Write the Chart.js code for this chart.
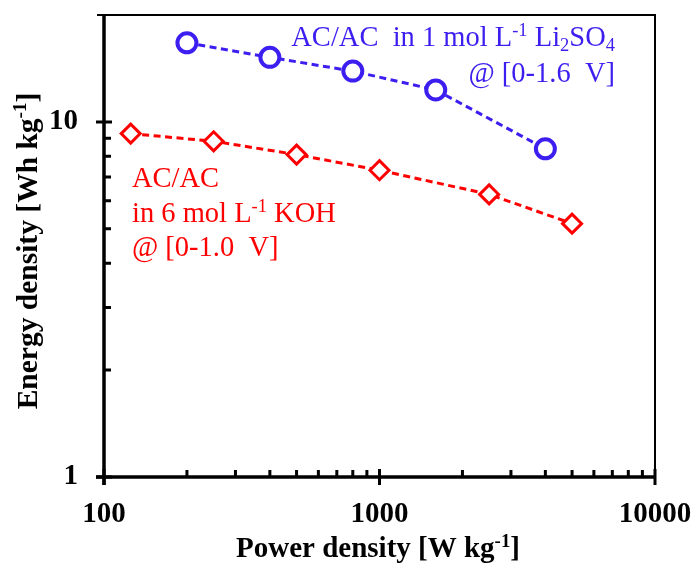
<!DOCTYPE html>
<html>
<head>
<meta charset="utf-8">
<script src="https://cdn.jsdelivr.net/npm/chart.js@4/dist/chart.umd.min.js"></script>
<style>
    html, body { margin: 0; padding: 0; background: #fff; }
    #wrap { width: 691px; height: 565px; }
</style>
</head>
<body>
<div id="wrap"><canvas id="chart" width="691" height="565"></canvas></div>
<script>
// Data (power density W/kg, energy density Wh/kg)
const li2so4Power = [200, 400, 800, 1600, 4000];
const li2so4Energy = [16.7, 15.2, 13.9, 12.3, 8.4];
const kohPower = [125, 250, 500, 1000, 2500, 5000];
const kohEnergy = [9.27, 8.82, 8.09, 7.31, 6.25, 5.17];

const xMajor = [100, 1000, 10000];
const yMajor = [1, 10];
const xRange = [100, 10000];
const yRange = [1, 20];

const BLUE = '#3c1ef0';
const RED = '#ff0000';
const SERIF = "'Liberation Serif', 'Times New Roman', serif";

// Minor ticks 2..9 of each decade inside the range
function minorTicks(min, max) {
    const out = [];
    for (let d = min; d < max; d *= 10) {
        for (let k = 2; k <= 9; k++) {
            const v = d * k;
            if (v < max) out.push(v);
        }
    }
    return out;
}

function toPoints(xs, ys) {
    return xs.map((x, i) => ({ x: x, y: ys[i] }));
}

// Text with super/subscripts, segments: [text, 'n' | 'sup' | 'sub']
function richWidth(ctx, segs, size, weight) {
    let w = 0;
    segs.forEach(([t, kind]) => {
        const s = kind === 'n' ? size : size * 0.65;
        ctx.font = `${weight} ${s}px ${SERIF}`;
        w += ctx.measureText(t).width;
    });
    return w;
}

function drawRich(ctx, segs, x, y, size, weight, color, align) {
    let cx = x;
    if (align === 'right') cx = x - richWidth(ctx, segs, size, weight);
    if (align === 'center') cx = x - richWidth(ctx, segs, size, weight) / 2;
    ctx.fillStyle = color;
    ctx.textBaseline = 'alphabetic';
    ctx.textAlign = 'left';
    segs.forEach(([t, kind]) => {
        let s = size, dy = 0;
        if (kind === 'sup') { s = size * 0.65; dy = -size * 0.36; }
        if (kind === 'sub') { s = size * 0.65; dy = size * 0.18; }
        ctx.font = `${weight} ${s}px ${SERIF}`;
        ctx.fillText(t, cx, y + dy);
        cx += ctx.measureText(t).width;
    });
}

// Axes, frame, ticks, titles and the text labels inside the plot
const decorPlugin = {
    id: 'decor',
    afterDraw(chart) {
        const ctx = chart.ctx;
        const a = chart.chartArea;
        const xs = chart.scales.x;
        const ys = chart.scales.y;
        ctx.save();
        ctx.strokeStyle = '#000';
        ctx.lineCap = 'butt';

        // frame (top + right)
        ctx.lineWidth = 2;
        ctx.beginPath();
        ctx.moveTo(a.left - 7, a.top);
        ctx.lineTo(a.right, a.top);
        ctx.lineTo(a.right, a.bottom);
        ctx.stroke();

        // axis lines
        ctx.lineWidth = 3.5;
        ctx.beginPath();
        ctx.moveTo(a.left, a.top - 1);
        ctx.lineTo(a.left, a.bottom + 8);
        ctx.moveTo(a.left - 8, a.bottom);
        ctx.lineTo(a.right + 1, a.bottom);
        ctx.stroke();

        // major ticks cross the axis, minor ticks point inward
        ctx.lineWidth = 3;
        ctx.beginPath();
        xMajor.forEach(v => {
            const px = xs.getPixelForValue(v);
            ctx.moveTo(px, a.bottom - 8);
            ctx.lineTo(px, a.bottom + 8);
        });
        minorTicks(xRange[0], xRange[1]).forEach(v => {
            const px = xs.getPixelForValue(v);
            ctx.moveTo(px, a.bottom);
            ctx.lineTo(px, a.bottom - 7);
        });
        yMajor.forEach(v => {
            const py = ys.getPixelForValue(v);
            ctx.moveTo(a.left - 8, py);
            ctx.lineTo(a.left + 8, py);
        });
        minorTicks(yRange[0], yRange[1]).forEach(v => {
            const py = ys.getPixelForValue(v);
            ctx.moveTo(a.left, py);
            ctx.lineTo(a.left + 7, py);
        });
        ctx.stroke();

        // axis titles
        drawRich(ctx, [['Power density [W kg', 'n'], ['-1', 'sup'], [']', 'n']],
            378, 557, 29, 'bold', '#000', 'center');
        ctx.save();
        ctx.translate(37, 251);
        ctx.rotate(-Math.PI / 2);
        drawRich(ctx, [['Energy density [Wh kg', 'n'], ['-1', 'sup'], [']', 'n']],
            0, 0, 29.5, 'bold', '#000', 'center');
        ctx.restore();

        // series labels
        drawRich(ctx, [['AC/AC  in 1 mol L', 'n'], ['-1', 'sup'], [' Li', 'n'], ['2', 'sub'], ['SO', 'n'], ['4', 'sub']],
            615, 46, 28.5, 'normal', BLUE, 'right');
        drawRich(ctx, [['@ [0-1.6  V]', 'n']], 615, 82, 28.5, 'normal', BLUE, 'right');
        drawRich(ctx, [['AC/AC', 'n']], 132, 187, 28.5, 'normal', RED, 'left');
        drawRich(ctx, [['in 6 mol L', 'n'], ['-1', 'sup'], [' KOH', 'n']], 132, 222, 28.5, 'normal', RED, 'left');
        drawRich(ctx, [['@ [0-1.0  V]', 'n']], 132, 256, 28.5, 'normal', RED, 'left');
        ctx.restore();
    }
};

// fixed plot area: drop the extra room the scales ask for around their labels
function fixScale(size) {
    return s => {
        if (s.isHorizontal()) s.height = size; else s.width = size;
        s.paddingTop = 0;
        s.paddingBottom = 0;
        s.paddingLeft = 0;
        s.paddingRight = 0;
    };
}

const ctx = document.getElementById('chart').getContext('2d');
new Chart(ctx, {
    type: 'scatter',
    data: {
        datasets: [{
            label: 'AC/AC in 1 mol L-1 Li2SO4',
            data: toPoints(li2so4Power, li2so4Energy),
            showLine: true,
            borderColor: BLUE,
            borderWidth: 3,
            borderDash: [7, 4.5],
            pointStyle: 'circle',
            pointRadius: 9.5,
            pointBorderWidth: 4,
            pointBorderColor: BLUE,
            pointBackgroundColor: '#fff'
        }, {
            label: 'AC/AC in 6 mol L-1 KOH',
            data: toPoints(kohPower, kohEnergy),
            showLine: true,
            borderColor: RED,
            borderWidth: 3,
            borderDash: [7, 4.5],
            pointStyle: 'rectRot',
            pointRadius: 9.5,
            pointBorderWidth: 3,
            pointBorderColor: RED,
            pointBackgroundColor: '#fff'
        }]
    },
    options: {
        responsive: false,
        animation: false,
        layout: { padding: { top: 15, right: 36, left: 0, bottom: 0 } },
        plugins: {
            legend: { display: false },
            tooltip: { enabled: false }
        },
        scales: {
            x: {
                type: 'logarithmic',
                min: xRange[0],
                max: xRange[1],
                grid: { display: false, drawTicks: false },
                border: { display: false },
                afterBuildTicks: s => { s.ticks = xMajor.map(v => ({ value: v })); },
                afterFit: fixScale(88),
                ticks: {
                    color: '#000',
                    padding: 20,
                    maxRotation: 0,
                    font: { family: SERIF, size: 29, weight: 'bold' },
                    callback: v => String(v)
                }
            },
            y: {
                type: 'logarithmic',
                min: yRange[0],
                max: yRange[1],
                grid: { display: false, drawTicks: false },
                border: { display: false },
                afterBuildTicks: s => { s.ticks = yMajor.map(v => ({ value: v })); },
                afterFit: fixScale(104),
                ticks: {
                    color: '#000',
                    padding: 26,
                    font: { family: SERIF, size: 29, weight: 'bold' },
                    callback: v => String(v)
                }
            }
        }
    },
    plugins: [decorPlugin]
});
</script>
</body>
</html>
